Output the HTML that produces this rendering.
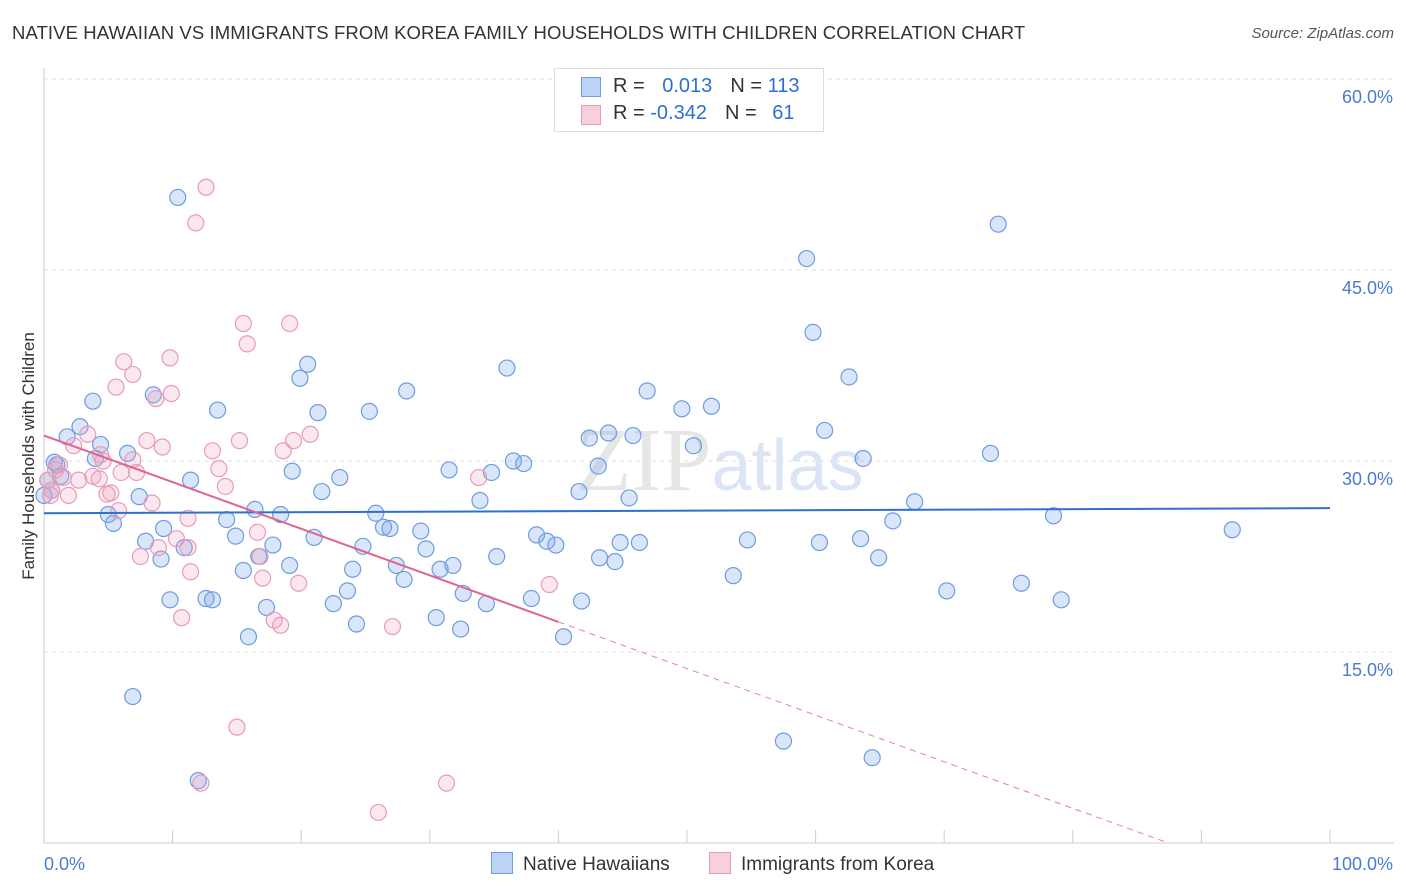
<!DOCTYPE html>
<html><head><meta charset="utf-8">
<style>
body{margin:0;background:#fff;font-family:"Liberation Sans",sans-serif;}
#wrap{position:relative;width:1406px;height:892px;overflow:hidden;}
.title{position:absolute;left:12px;top:22px;font-size:18.5px;color:#333;letter-spacing:0.1px;}
.source{position:absolute;right:12px;top:25px;font-size:15px;color:#555;font-style:italic;}
</style></head>
<body>
<div id="wrap">
<div class="title">NATIVE HAWAIIAN VS IMMIGRANTS FROM KOREA FAMILY HOUSEHOLDS WITH CHILDREN CORRELATION CHART</div>
<div class="source">Source: ZipAtlas.com</div>
<svg id="svg" width="1406" height="892" style="position:absolute;left:0;top:0"></svg>
</div>
<script>
const blueX=[10.4,74.2,59.3,59.8,20.5,36.0,19.9,62.6,28.2,46.9,8.5,3.8,13.5,21.3,25.3,49.6,51.9,2.8,60.7,1.8,4.4,42.4,43.9,45.8,50.5,6.5,63.7,73.6,0.8,1.3,4.0,19.3,31.5,34.8,36.5,37.3,43.1,23.0,11.4,21.6,7.4,41.6,45.5,33.9,67.7,16.4,18.4,5.0,25.8,78.5,92.4,5.4,14.2,66.0,26.4,9.3,26.9,29.3,21.0,14.9,7.9,38.3,39.1,39.8,44.8,46.3,54.7,60.3,63.5,17.8,10.9,29.7,24.8,35.2,9.1,16.7,43.2,44.4,64.9,27.4,19.1,31.8,30.8,15.5,24.0,53.6,28.0,76.0,70.2,23.6,32.6,12.6,9.8,13.1,37.9,34.4,79.1,41.8,17.3,22.5,30.5,24.3,32.4,15.9,40.4,6.9,57.5,64.4,12.0,0.3,0.6,0.0,1.0];
const blueY=[50.7,48.6,45.9,40.1,37.6,37.3,36.5,36.6,35.5,35.5,35.2,34.7,34.0,33.8,33.9,34.1,34.3,32.7,32.4,31.9,31.3,31.8,32.2,32.0,31.2,30.6,30.2,30.6,29.9,28.8,30.2,29.2,29.3,29.1,30.0,29.8,29.6,28.7,28.5,27.6,27.2,27.6,27.1,26.9,26.8,26.2,25.8,25.8,25.9,25.7,24.6,25.1,25.4,25.3,24.8,24.7,24.7,24.5,24.0,24.1,23.7,24.2,23.7,23.4,23.6,23.6,23.8,23.6,23.9,23.4,23.2,23.1,23.3,22.5,22.3,22.5,22.4,22.1,22.4,21.8,21.8,21.8,21.5,21.4,21.5,21.0,20.7,20.4,19.8,19.8,19.6,19.2,19.1,19.1,19.2,18.8,19.1,19.0,18.5,18.8,17.7,17.2,16.8,16.2,16.2,11.5,8.0,6.7,4.9,28.5,27.7,27.3,29.7];
const pinkX=[12.6,11.8,15.5,19.1,15.8,9.8,6.2,6.9,5.6,9.9,8.7,20.7,3.4,19.4,15.2,8.0,9.2,2.3,13.1,18.6,4.4,1.2,4.6,6.0,13.6,7.2,6.9,3.8,4.3,33.8,2.7,14.1,5.2,4.9,1.9,8.4,5.8,11.2,10.3,16.6,8.9,7.5,11.2,16.8,11.4,17.0,19.8,39.3,10.7,17.9,18.4,27.1,15.0,31.3,12.2,26.0,0.6,0.3,0.9,0.5,1.5];
const pinkY=[51.5,48.7,40.8,40.8,39.2,38.1,37.8,36.8,35.8,35.3,34.9,32.1,32.1,31.6,31.6,31.6,31.1,31.2,30.8,30.8,30.5,29.7,30.0,29.1,29.4,29.1,30.1,28.8,28.6,28.7,28.5,28.0,27.5,27.4,27.3,26.7,26.1,25.5,23.9,24.4,23.2,22.5,23.2,22.5,21.3,20.8,20.4,20.3,17.7,17.5,17.1,17.0,9.1,4.7,4.7,2.4,27.7,28.5,29.3,27.3,28.7];
const blueTrend=[25.9,26.3];
const pinkTrend=[32.0,-0.366];
const yTicks=[15,30,45,60];

const NS="http://www.w3.org/2000/svg";
const svg=document.getElementById('svg');
const X=v=>44+v*12.86;
const Y=v=>843-v*12.733;
function mk(tag,attrs,parent){const e=document.createElementNS(NS,tag);for(const k in attrs)e.setAttribute(k,attrs[k]);(parent||svg).appendChild(e);return e;}

yTicks.forEach(t=>{
  const g=mk('line',{x1:44,x2:1394,y1:Y(t),y2:Y(t),stroke:'#dcdcdc','stroke-dasharray':'4,4'});
  
  
  const tx=mk('text',{x:1393,y:Y(t)+24,'text-anchor':'end','font-size':'18',fill:'#4a7bd0','font-family':'Liberation Sans, sans-serif'});
  tx.textContent=t.toFixed(1)+'%';
  
  
});
mk('line',{x1:44,x2:44,y1:68,y2:843,stroke:'#ccc'});
mk('line',{x1:44,x2:1394,y1:843,y2:843,stroke:'#ccc'});
for(let i=0;i<=10;i++){const l=mk('line',{x1:X(i*10),x2:X(i*10),y1:830,y2:843,stroke:'#ccc'});

}
const xl=mk('text',{x:44,y:870,'font-size':'18',fill:'#4a7bd0'});xl.textContent='0.0%';


const xr=mk('text',{x:1393,y:870,'font-size':'18',fill:'#4a7bd0','text-anchor':'end'});xr.textContent='100.0%';


const yt=mk('text',{x:34,y:456,'font-size':'17',fill:'#333','text-anchor':'middle',transform:'rotate(-90 34 456)'});yt.textContent='Family Households with Children';


const wm=mk('text',{x:720,y:490,'text-anchor':'middle','font-size':'90',fill:'#e6e6e6','font-family':'Liberation Serif, serif'});
wm.innerHTML='ZIP<tspan font-family="Liberation Sans, sans-serif" font-size="72" fill="#dbe5f5">atlas</tspan>';


blueX.forEach((v,i)=>{const c=mk('circle',{cx:X(v),cy:Y(blueY[i]),r:8,fill:'rgba(120,165,235,0.28)',stroke:'#6d9ce0','stroke-width':1.2});

});
pinkX.forEach((v,i)=>{const c=mk('circle',{cx:X(v),cy:Y(pinkY[i]),r:8,fill:'rgba(240,160,190,0.25)',stroke:'#e99bb7','stroke-width':1.2});

});
const bt=mk('line',{x1:X(0),x2:X(100),y1:Y(blueTrend[0]),y2:Y(blueTrend[1]),stroke:'#2f6fd0','stroke-width':2});


const pz=-pinkTrend[0]/pinkTrend[1];
const pd=mk('line',{x1:X(40),x2:X(pz),y1:Y(pinkTrend[0]+pinkTrend[1]*40),y2:Y(0),stroke:'#e77fa3','stroke-width':1,'stroke-dasharray':'6,5'});


const pt=mk('line',{x1:X(0),x2:X(40),y1:Y(pinkTrend[0]),y2:Y(pinkTrend[0]+pinkTrend[1]*40),stroke:'#e0648f','stroke-width':2});


</script>
<div style="position:absolute;left:554px;top:68px;width:268px;height:62px;border:1px solid #ddd;background:#fff;font-size:20px;">
  <div style="position:absolute;left:26px;top:8px;width:18px;height:18px;background:#bcd3f5;border:1px solid #6d9ce0"></div>
  <div style="position:absolute;left:58px;top:6px;color:#333">R = <span style="color:#2f6fd0;margin-left:12px">0.013</span><span style="margin-left:18px">N = </span><span style="color:#2f6fd0">113</span></div>
  <div style="position:absolute;left:26px;top:36px;width:18px;height:18px;background:#f8cfdc;border:1px solid #e99bb7"></div>
  <div style="position:absolute;left:58px;top:33px;color:#333">R = <span style="color:#2f6fd0">-0.342</span><span style="margin-left:18px">N = </span><span style="color:#2f6fd0;margin-left:10px">61</span></div>
</div>
<div style="position:absolute;left:491px;top:852px;font-size:19px;color:#333;">
  <span style="position:absolute;left:0;top:0;white-space:nowrap"><span style="display:inline-block;width:20px;height:20px;background:#bcd3f5;border:1px solid #6d9ce0;vertical-align:-4px;margin-right:10px"></span>Native Hawaiians</span>
  <span style="position:absolute;left:218px;top:0;white-space:nowrap"><span style="display:inline-block;width:20px;height:20px;background:#f8cfdc;border:1px solid #e99bb7;vertical-align:-4px;margin-right:10px"></span>Immigrants from Korea</span>
</div>
</body></html>
